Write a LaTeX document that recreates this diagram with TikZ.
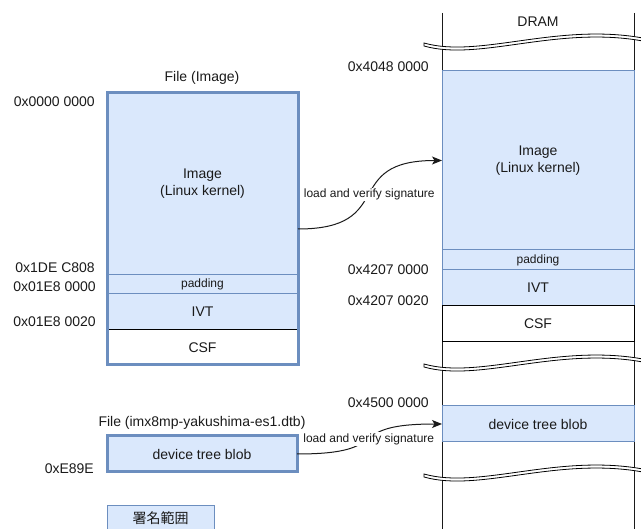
\documentclass[tikz,border=0pt]{standalone}
\usepackage{fontspec}
\setmainfont{Liberation Sans}
\newfontfamily\cjk{Noto Sans CJK JP}
\usetikzlibrary{arrows.meta}
\definecolor{fillb}{HTML}{DAE8FC}
\definecolor{strokeb}{HTML}{6C8EBF}
\definecolor{txt}{HTML}{1A1A1A}
\begin{document}
\begin{tikzpicture}[x=1pt,y=-1pt,
  seg/.style={draw=strokeb, fill=fillb, line width=1pt, inner sep=0pt, outer sep=0pt,
    anchor=north west, align=center, text=txt, font=\fontsize{14}{17}\selectfont},
  csfbox/.style={seg, draw=black, fill=white},
  smallseg/.style={seg, font=\fontsize{12}{14}\selectfont},
  lbl/.style={font=\fontsize{14}{17}\selectfont, inner sep=0pt, text=txt},
  frame/.style={draw=strokeb, line width=3pt, inner sep=0pt, outer sep=0pt,
    anchor=north west, align=center, text=txt, font=\fontsize{14}{17}\selectfont},
  flow/.style={line width=1pt, draw=txt, -{Stealth[length=10pt,width=8pt,inset=2.5pt]}},
  flowlbl/.style={fill=white, inner sep=1pt, text=txt, font=\fontsize{12}{14}\selectfont},
  wave/.style={draw=black, fill=white, line width=0.8pt},
]
\useasboundingbox (0,0) rectangle (641,529);

% DRAM column lines
\coordinate (dl1) at (442,13); \coordinate (dl2) at (442,529);
\coordinate (dr1) at (634,13); \coordinate (dr2) at (634,529);
\draw[line width=1pt, draw=txt] (dl1) -- (dl2);
\draw[line width=1pt, draw=txt] (dr1) -- (dr2);
\node[lbl] (dram) at (538,22) {DRAM};

% File (Image)
\node[lbl] (ftitle) at (202,78) {File (Image)};
\node[seg, minimum width=191pt, minimum height=182pt] (fimg) at (107,93) {Image\\(Linux kernel)};
\node[smallseg, minimum width=191pt, minimum height=19pt] (fpad) at (107,275) {padding};
\node[seg, minimum width=191pt, minimum height=36pt] (fivt) at (107,294) {IVT};
\node[csfbox, minimum width=191pt, minimum height=35pt] (fcsf) at (107,330) {CSF};
\node[frame, minimum width=191pt, minimum height=272pt] (ffile) at (107,93) {};

\node[lbl, anchor=east] (a1) at (95,102) {0x0000 0000};
\node[lbl, anchor=east] (a2) at (95,268) {0x1DE C808};
\node[lbl, anchor=east] (a3) at (96,287) {0x01E8 0000};
\node[lbl, anchor=east] (a4) at (96,322) {0x01E8 0020};

% File (dtb)
\node[lbl] (dtitle) at (202,423) {File (imx8mp-yakushima-es1.dtb)};
\node[frame, fill=fillb, minimum width=190pt, minimum height=36pt] (fdtb) at (107,436) {device tree blob};
\node[lbl, anchor=east] (a5) at (94,469) {0xE89E};

% DRAM contents
\node[seg, minimum width=192pt, minimum height=179pt] (dimg) at (442,71) {Image\\(Linux kernel)};
\node[smallseg, minimum width=192pt, minimum height=20pt] (dpad) at (442,250) {padding};
\node[seg, minimum width=192pt, minimum height=36pt] (divt) at (442,270) {IVT};
\node[csfbox, minimum width=192pt, minimum height=36pt] (dcsf) at (442,306) {CSF};
\node[seg, minimum width=192pt, minimum height=36pt] (ddtb) at (442,406) {device tree blob};

\node[lbl, anchor=east] (b1) at (429,67) {0x4048 0000};
\node[lbl, anchor=east] (b2) at (429,270) {0x4207 0000};
\node[lbl, anchor=east] (b3) at (429,301) {0x4207 0020};
\node[lbl, anchor=east] (b4) at (429,403) {0x4500 0000};

% breaks
\foreach \dy in {0,321,431} {
  \begin{scope}[shift={(0,\dy)}]
    \path[wave] (424,43) .. controls (480,59) and (560,21) .. (648,39)
      -- (648,42) .. controls (560,24) and (480,62) .. (424,46) -- cycle;
  \end{scope}
}

% arrows
\draw[flow] (ffile.east) .. controls +(100,0) and +(-102,0) .. (dimg.west)
  node[flowlbl, pos=0.5] (l1) {load and verify signature};
\draw[flow] (fdtb.east) .. controls +(100,0) and +(-102,0) .. (ddtb.west)
  node[flowlbl, pos=0.5] (l2) {load and verify signature};

% legend
\node[seg, minimum width=107pt, minimum height=24pt] (legend) at (107,506) {\cjk 署名範囲};
\end{tikzpicture}
\end{document}
